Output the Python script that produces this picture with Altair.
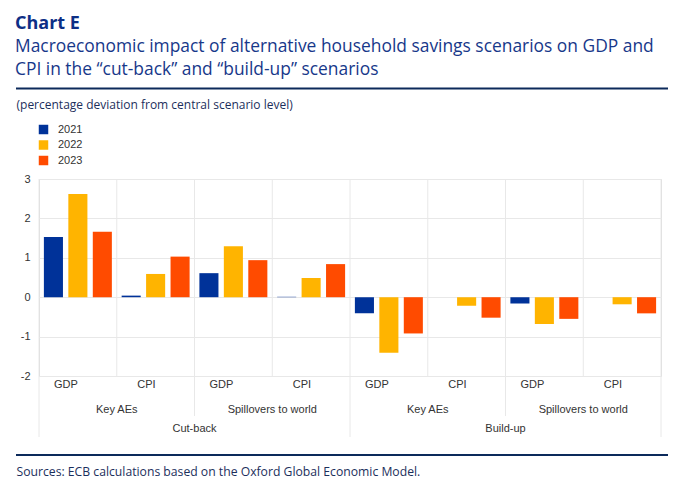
import altair as alt
import pandas as pd

scenarios = ["Cut-back"] * 4 + ["Build-up"] * 4
regions = ["Key AEs", "Key AEs", "Spillovers to world", "Spillovers to world"] * 2
variables = ["GDP", "CPI"] * 4
years = ["2021", "2022", "2023"]
v2021 = [1.53, 0.04, 0.61, 0.01, -0.41, 0.0, -0.16, 0.0]
v2022 = [2.62, 0.59, 1.29, 0.49, -1.41, -0.22, -0.68, -0.18]
v2023 = [1.66, 1.03, 0.94, 0.84, -0.92, -0.52, -0.55, -0.41]
colors = ["#003299", "#ffb400", "#ff4b00"]

slots = [f"{s}|{r}|{v}" for s, r, v in zip(scenarios, regions, variables)]

rows = []
for yr, vals in zip(years, [v2021, v2022, v2023]):
    for sl, val in zip(slots, vals):
        rows.append({"slot": sl, "year": yr, "value": val})
df = pd.DataFrame(rows)

# hierarchical label tables
reg_df = pd.DataFrame({"slot": slots[0::2], "label": regions[0::2]})
scen_df = pd.DataFrame({"slot": [slots[1], slots[5]], "label": [scenarios[0], scenarios[4]]})
edges_df = pd.DataFrame({"slot": slots, "level": [3, 1, 2, 1, 3, 1, 2, 1]})
last_df = pd.DataFrame({"slot": [slots[-1]], "level": [3]})

W, H = 622, 197
GRID = "#e8e8e8"
LABEL_FONT = "Liberation Sans"
TEXT_FONT = "Open Sans"

xsc = alt.Scale(domain=slots, paddingInner=0, paddingOuter=0)
ysc = alt.Scale(domain=[-2, 3], nice=False)

bars = alt.Chart(df).mark_bar().encode(
    x=alt.X("slot:N", scale=xsc, sort=slots,
            axis=alt.Axis(labelExpr="split(datum.label, '|')[2]", labelAngle=0,
                          ticks=False, domain=False, grid=False, labelPadding=8,
                          labelFont=LABEL_FONT, labelFontSize=11, labelColor="#333333",
                          title="Sources: ECB calculations based on the Oxford Global Economic Model.",
                          titleAnchor="start", titleAlign="left", titleX=-23, titleY=99,
                          titleBaseline="alphabetic", titleFont=TEXT_FONT, titleFontSize=12.2,
                          titleFontWeight="normal", titleColor="#1c2f5c")),
    xOffset=alt.XOffset("year:N", scale=alt.Scale(paddingInner=0.22, paddingOuter=0.2)),
    y=alt.Y("value:Q", scale=ysc,
            axis=alt.Axis(values=[-2, -1, 0, 1, 2, 3], grid=True, gridColor=GRID,
                          labelExpr="'' + datum.value",
                          domain=False, ticks=False, labelPadding=9,
                          labelFont=LABEL_FONT, labelFontSize=11, labelColor="#333333",
                          title="(percentage deviation from central scenario level)",
                          titleAngle=0, titleAlign="left", titleBaseline="alphabetic",
                          titleX=-23, titleY=-71, titleFont=TEXT_FONT, titleFontSize=12,
                          titleFontWeight="normal", titleColor="#1c2f5c")),
    color=alt.Color("year:N", scale=alt.Scale(domain=years, range=colors),
                    legend=alt.Legend(title=None, orient="none", legendX=-1, legendY=-55,
                                      symbolType="square", symbolSize=90, symbolStrokeWidth=0,
                                      labelFont=LABEL_FONT, labelFontSize=11,
                                      labelColor="#333333", labelOffset=9, rowPadding=3.5,
                                      padding=0)),
)

def edge_layer(data, level, bandpos):
    ext = {1: H, 2: H + 40, 3: H + 61}[level]
    return alt.Chart(data).transform_filter(f"datum.level == {level}").mark_rule(
        color=GRID, strokeWidth=1).encode(
        x=alt.X("slot:N", scale=xsc, sort=slots, bandPosition=bandpos),
        y=alt.value(0), y2=alt.value(ext))

edges = [edge_layer(edges_df, lv, 0) for lv in (1, 2, 3)] + [edge_layer(last_df, 3, 1)]

reg_text = alt.Chart(reg_df).mark_text(font=LABEL_FONT, fontSize=11, color="#333333",
                                       baseline="middle").encode(
    x=alt.X("slot:N", scale=xsc, sort=slots, bandPosition=1),
    y=alt.value(H + 34), text="label:N")
scen_text = alt.Chart(scen_df).mark_text(font=LABEL_FONT, fontSize=11, color="#333333",
                                         baseline="middle").encode(
    x=alt.X("slot:N", scale=xsc, sort=slots, bandPosition=1),
    y=alt.value(H + 53), text="label:N")

hr_top = alt.Chart(pd.DataFrame({"k": [0]})).mark_rule(color="#0c2a5b", strokeWidth=2).encode(
    x=alt.value(-23), x2=alt.value(629), y=alt.value(88.5 - 179))
hr_bot = alt.Chart(pd.DataFrame({"k": [0]})).mark_rule(color="#0c2a5b", strokeWidth=2).encode(
    x=alt.value(-23), x2=alt.value(629), y=alt.value(455 - 179))

chart = alt.layer(*edges, bars, reg_text, scen_text, hr_top, hr_bot).properties(
    width=W, height=H,
    title=alt.TitleParams(
        text="Chart E",
        subtitle=["Macroeconomic impact of alternative household savings scenarios on GDP and",
                  "CPI in the \u201ccut-back\u201d and \u201cbuild-up\u201d scenarios"],
        anchor="start", frame="bounds", font=TEXT_FONT, fontSize=18, fontWeight="bold",
        color="#0d2f86", subtitleFont=TEXT_FONT, subtitleFontSize=17.4,
        subtitleColor="#17388a", subtitleLineHeight=23, subtitlePadding=5, offset=9),
    autosize=alt.AutoSizeParams(type="none"),
    padding={"left": 39, "top": 179, "right": 19, "bottom": 108},
).configure_view(stroke=None).configure(background="white")

chart.save("out.html", embed_options={"renderer": "svg", "actions": False})
